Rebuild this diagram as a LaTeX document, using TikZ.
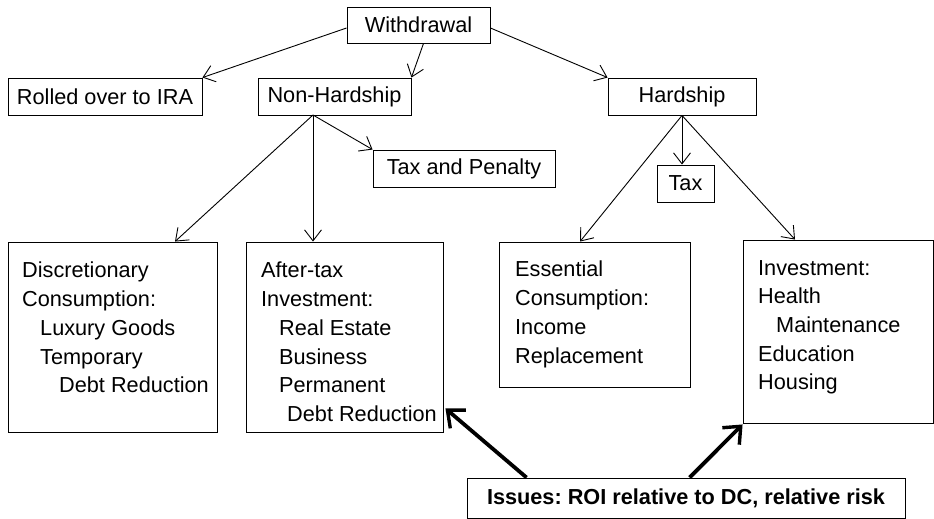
\documentclass[tikz,border=0pt]{standalone}
\usepackage{fontspec}
\setmainfont{Liberation Sans}
\usetikzlibrary{arrows.meta}
\frenchspacing
\begin{document}
\begin{tikzpicture}[x=1pt,y=-1pt,
  box/.style={draw, line width=0.9pt, inner sep=0pt, font=\fontsize{21.7}{29}\selectfont},
  txt/.style={inner sep=0pt, anchor=north west, align=left, font=\fontsize{21.7}{28.7}\selectfont},
  arr/.style={-{Straight Barb[length=11pt,width=17pt]}, line width=0.9pt},
  bigarr/.style={-{Straight Barb[length=14pt,width=24pt,line width=3.4pt]}, line width=3.8pt}]
\useasboundingbox (0,0) rectangle (934,519);
% small boxes
\node[box, minimum width=143pt, minimum height=36pt] (wd) at (418.5,25) {Withdrawal};
\node[box, minimum width=194pt, minimum height=37pt] (ro) at (105,96.5) {Rolled over to IRA};
\node[box, minimum width=153pt, minimum height=37pt] (nh) at (334.5,96.5) {Non-Hardship};
\node[box, minimum width=148pt, minimum height=37pt] (hs) at (682,96.5) {Hardship};
\node[box, minimum width=182pt, minimum height=37pt] (tp) at (464,168.5) {Tax and Penalty};
\node[box, minimum width=57pt, minimum height=37pt] (tax) at (685.5,183.5) {Tax};
% big boxes
\node[box, minimum width=209pt, minimum height=190pt] (dc) at (112.5,337) {};
\node[box, minimum width=197pt, minimum height=190pt] (at) at (344.5,337) {};
\node[box, minimum width=191pt, minimum height=145pt] (ec) at (594.5,314.5) {};
\node[box, minimum width=190pt, minimum height=183pt] (inv) at (838,331.5) {};
\node[txt] (dct) at (22,262) {Discretionary\\Consumption:\\\hspace*{18pt}Luxury Goods\\\hspace*{18pt}Temporary\\\hspace*{37pt}Debt Reduction};
\node[txt] (att) at (261,262) {After-tax\\Investment:\\\hspace*{18pt}Real Estate\\\hspace*{18pt}Business\\\hspace*{18pt}Permanent\\\hspace*{26pt}Debt Reduction};
\node[txt] (ect) at (515,261) {Essential\\Consumption:\\Income\\Replacement};
\node[txt] (invt) at (758,260) {Investment:\\Health\\\hspace*{18pt}Maintenance\\Education\\Housing};
\node[box, minimum width=438pt, minimum height=40pt, font=\fontsize{21.7}{29}\selectfont\bfseries] (iss) at (686,498) {Issues: ROI relative to DC, relative risk};
% connectors
\coordinate (nhb) at (313,115);
\draw[arr] ([yshift=-3pt]wd.west) -- (ro.north east);
\draw[arr] ([xshift=5pt]wd.south) -- (nh.north east);
\draw[arr] ([yshift=-3pt]wd.east) -- (hs.north west);
\draw[arr] (nhb) -- (tp.north west);
\draw[arr] (nhb) -- ([xshift=62.5pt]dc.north);
\draw[arr] (nhb) -- ([xshift=-31.5pt]at.north);
\draw[arr] (hs.south) -- (hs.south |- tax.north);
\draw[arr] (hs.south) -- ([xshift=-14.5pt]ec.north);
\draw[arr] (hs.south) -- ([xshift=-43pt]inv.north);
\draw[bigarr] ([xshift=60pt]iss.north west) -- ([xshift=2pt,yshift=24pt]at.south east);
\draw[bigarr] ([xshift=223pt]iss.north west) -- ([xshift=0pt,yshift=-1pt]inv.south west);
\end{tikzpicture}
\end{document}
